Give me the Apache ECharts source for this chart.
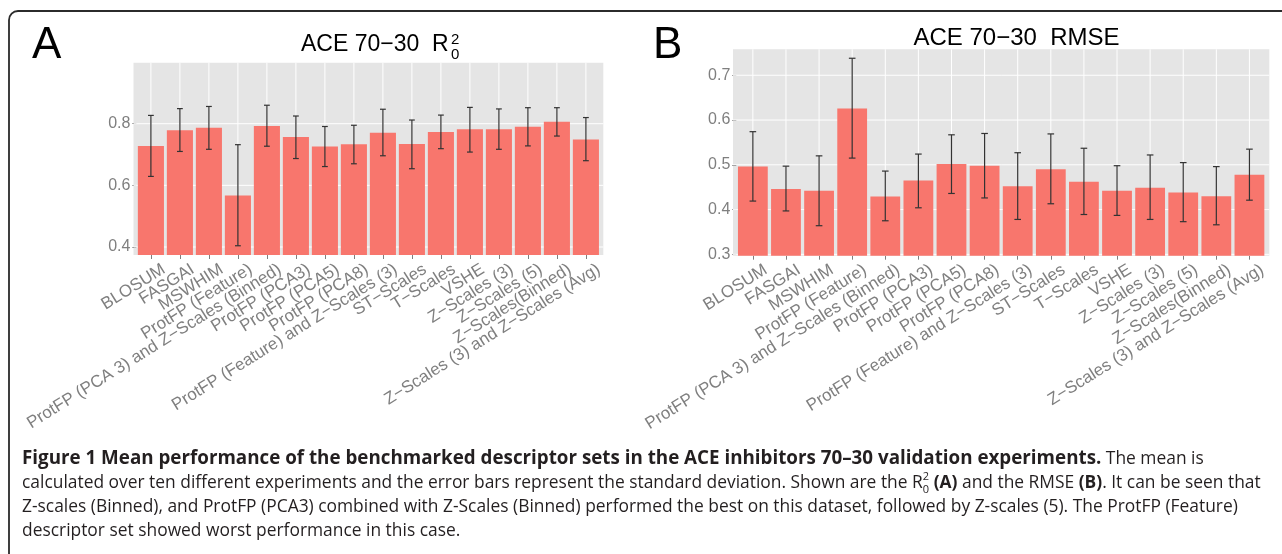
<!DOCTYPE html>
<html>
<head>
<meta charset="utf-8">
<script src="https://cdn.jsdelivr.net/npm/echarts@6/dist/echarts.min.js"></script>
<style>
html,body{margin:0;padding:0;background:#fff;}
#chart{width:1282px;height:554px;}
</style>
</head>
<body>
<div id="chart"></div>
<script>
const categories = ['BLOSUM','FASGAI','MSWHIM','ProtFP (Feature)','ProtFP (PCA 3) and Z\u2212Scales (Binned)','ProtFP (PCA3)','ProtFP (PCA5)','ProtFP (PCA8)','ProtFP (Feature) and Z\u2212Scales (3)','ST\u2212Scales','T\u2212Scales','VSHE','Z\u2212Scales (3)','Z\u2212Scales (5)','Z\u2212Scales(Binned)','Z\u2212Scales (3) and Z\u2212Scales (Avg)'];

const r2Mean  = [0.728,0.779,0.787,0.567,0.793,0.757,0.726,0.733,0.771,0.734,0.773,0.782,0.782,0.790,0.806,0.749];
const r2Upper = [0.827,0.849,0.856,0.732,0.860,0.825,0.791,0.795,0.847,0.812,0.828,0.853,0.848,0.852,0.852,0.820];
const r2Lower = [0.629,0.710,0.717,0.404,0.727,0.687,0.661,0.670,0.696,0.654,0.719,0.708,0.717,0.728,0.760,0.680];

const rmseMean  = [0.496,0.446,0.442,0.626,0.429,0.465,0.502,0.498,0.452,0.490,0.462,0.442,0.449,0.438,0.430,0.478];
const rmseUpper = [0.574,0.497,0.520,0.738,0.486,0.524,0.567,0.570,0.527,0.569,0.537,0.498,0.522,0.505,0.496,0.535];
const rmseLower = [0.419,0.397,0.364,0.515,0.375,0.404,0.436,0.426,0.378,0.413,0.389,0.387,0.378,0.373,0.366,0.421];

const r2Ticks = [0.4, 0.6, 0.8];
const rmseTicks = [0.3, 0.4, 0.5, 0.6, 0.7];

const titleA = 'ACE 70\u221230  R';
const titleASup = '2';
const titleASub = '0';
const titleB = 'ACE 70\u221230  RMSE';

const captionLines = [
  '{b|Figure 1 Mean performance of the benchmarked descriptor sets in the ACE inhibitors 70\u201330 validation experiments.}{n| The mean is}',
  '{n|calculated over ten different experiments and the error bars represent the standard deviation. Shown are the R}{sup|2}{sub|0}{n| }{bs|(A)}{n| and the RMSE }{bs|(B)}{n|. It can be seen that}',
  '{n|Z-scales (Binned), and ProtFP (PCA3) combined with Z-Scales (Binned) performed the best on this dataset, followed by Z-scales (5). The ProtFP (Feature)}',
  '{n|descriptor set showed worst performance in this case.}'
];

const FONT = '"Liberation Sans", Arial, sans-serif';
const CAPFONT = '"Open Sans", sans-serif';
const GREY = '#7f7f7f';
const BAR = '#F8766D';
const PANEL = '#E5E5E5';
const catIndex = categories.map((c, i) => i);

// panel boxes (ggplot panel incl. 0.6-unit discrete expansion); grid inner = 16 of 16.2 units
const panels = [
  { left: 133.5, top: 62.7, width: 469.8, height: 192.3 },
  { left: 733, top: 49.3, width: 536.3, height: 206.4 }
];
function innerGrid(p) {
  const unit = p.width / (categories.length + 0.2);
  return { left: p.left + 0.1 * unit, top: p.top, width: unit * categories.length, height: p.height,
           show: false, containLabel: false };
}

function errRender(params, api) {
  const x = api.value(0);
  const pLo = api.coord([x, api.value(1)]);
  const pHi = api.coord([x, api.value(2)]);
  const half = api.size([1, 0])[0] * 0.1;
  const st = { stroke: '#333', lineWidth: 1.2 };
  return { type: 'group', children: [
    { type: 'line', shape: { x1: pLo[0], y1: pLo[1], x2: pHi[0], y2: pHi[1] }, style: st },
    { type: 'line', shape: { x1: pLo[0] - half, y1: pLo[1], x2: pLo[0] + half, y2: pLo[1] }, style: st },
    { type: 'line', shape: { x1: pHi[0] - half, y1: pHi[1], x2: pHi[0] + half, y2: pHi[1] }, style: st }
  ]};
}
function vGridRender(params, api) {
  const cs = params.coordSys;
  const x = api.coord([api.value(0), api.value(1)])[0];
  return { type: 'line', shape: { x1: x, y1: cs.y, x2: x, y2: cs.y + cs.height }, style: { stroke: '#fff', lineWidth: 1 } };
}
function hGridRender(params, api) {
  const cs = params.coordSys;
  const ext = api.size([1, 0])[0] * 0.1;
  const y = api.coord([api.value(0), api.value(1)])[1];
  return { type: 'line', shape: { x1: cs.x - ext, y1: y, x2: cs.x + cs.width + ext, y2: y }, style: { stroke: '#fff', lineWidth: 1 } };
}

function xAxisCfg(gi) {
  return {
    type: 'category', gridIndex: gi, data: categories,
    axisLine: { show: false },
    axisTick: { show: true, alignWithLabel: true, interval: 0, length: 4, lineStyle: { color: GREY } },
    axisLabel: { interval: 0, rotate: 32, fontSize: 17, fontFamily: FONT, color: GREY, margin: 11,
                 align: 'right', verticalAlign: 'top', padding: [0, -10, 0, 0] },
    splitLine: { show: false }
  };
}
function yAxisCfg(gi, min, max, ticks) {
  return {
    type: 'value', gridIndex: gi, min: min, max: max,
    axisLine: { show: false },
    axisTick: { show: true, length: 4, lineStyle: { color: GREY }, customValues: ticks },
    axisLabel: { customValues: ticks, fontSize: 16, fontFamily: FONT, color: GREY, margin: 6,
                 showMinLabel: true, showMaxLabel: true,
                 formatter: v => v.toFixed(1) },
    splitLine: { show: false }
  };
}
function panelSeries(gi, mean, lower, upper, ticks) {
  return [
    { type: 'custom', xAxisIndex: gi, yAxisIndex: gi, z: 1, silent: true, renderItem: vGridRender,
      data: catIndex.map(i => [i, ticks[0]]) },
    { type: 'custom', xAxisIndex: gi, yAxisIndex: gi, z: 1, silent: true, renderItem: hGridRender, clip: false,
      data: ticks.map(v => [0, v]) },
    { type: 'bar', xAxisIndex: gi, yAxisIndex: gi, z: 2, barWidth: '90%', data: mean,
      itemStyle: { color: BAR } },
    { type: 'custom', xAxisIndex: gi, yAxisIndex: gi, z: 3, renderItem: errRender,
      encode: { x: 0, y: [1, 2] },
      data: catIndex.map(i => [i, lower[i], upper[i]]) }
  ];
}

const chart = echarts.init(document.getElementById('chart'), null, { renderer: 'canvas' });
chart.setOption({
  animation: false,
  backgroundColor: '#fff',
  grid: panels.map(innerGrid),
  xAxis: [xAxisCfg(0), xAxisCfg(1)],
  yAxis: [yAxisCfg(0, 0.374, 0.998, r2Ticks), yAxisCfg(1, 0.297, 0.758, rmseTicks)],
  series: [].concat(
    panelSeries(0, r2Mean, r2Lower, r2Upper, r2Ticks),
    panelSeries(1, rmseMean, rmseLower, rmseUpper, rmseTicks)
  ),
  graphic: [
    { type: 'rect', silent: true, z: -10, shape: { x: panels[0].left, y: panels[0].top, width: panels[0].width, height: panels[0].height },
      style: { fill: PANEL } },
    { type: 'rect', silent: true, z: -10, shape: { x: panels[1].left, y: panels[1].top, width: panels[1].width, height: panels[1].height },
      style: { fill: PANEL } },
    { type: 'rect', silent: true, z: 0, shape: { x: 9, y: 11, width: 1290, height: 580, r: 9 },
      style: { fill: 'none', stroke: '#2b2b2b', lineWidth: 1.8 } },
    { type: 'text', x: 32, y: 46, style: { text: 'A', fill: '#000', font: '44px ' + FONT, align: 'left', verticalAlign: 'middle' } },
    { type: 'text', x: 653, y: 46, style: { text: 'B', fill: '#000', font: '44px ' + FONT, align: 'left', verticalAlign: 'middle' } },
    { type: 'text', x: 301, y: 44.7, style: { text: titleA, fill: '#000', font: '23px ' + FONT, align: 'left', verticalAlign: 'middle' } },
    { type: 'text', x: 451, y: 40, style: { text: titleASup, fill: '#000', font: '15px ' + FONT, align: 'left', verticalAlign: 'middle' } },
    { type: 'text', x: 451, y: 55, style: { text: titleASub, fill: '#000', font: '15px ' + FONT, align: 'left', verticalAlign: 'middle' } },
    { type: 'text', x: 913.5, y: 38, style: { text: titleB, fill: '#000', font: '24px ' + FONT, align: 'left', verticalAlign: 'middle' } },
    { type: 'text', x: 22, y: 447, style: {
        text: captionLines.join('\n'),
        align: 'left', verticalAlign: 'top',
        fontFamily: CAPFONT, fontSize: 17.4, lineHeight: 24, fill: '#231f20',
        rich: {
          n: { fontFamily: CAPFONT, fontSize: 17.4, lineHeight: 24, fill: '#231f20' },
          b: { fontFamily: CAPFONT, fontSize: 18.8, lineHeight: 24, fill: '#231f20', fontWeight: 'bold' },
          bs: { fontFamily: CAPFONT, fontSize: 17.4, lineHeight: 24, fill: '#231f20', fontWeight: 'bold' },
          sup: { fontFamily: CAPFONT, fontSize: 11, lineHeight: 12, verticalAlign: 'top', width: 0.1, fill: '#231f20' },
          sub: { fontFamily: CAPFONT, fontSize: 11, lineHeight: 16, verticalAlign: 'bottom', fill: '#231f20' }
        }
    } }
  ]
});
</script>
</body>
</html>
